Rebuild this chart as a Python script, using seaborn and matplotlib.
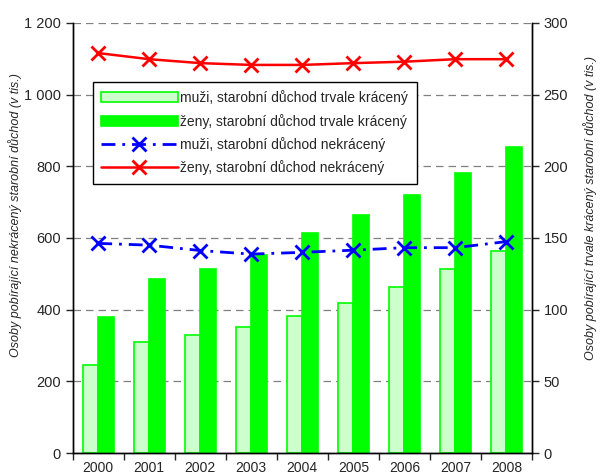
import pandas as pd
import matplotlib
matplotlib.use('Agg')
import matplotlib.pyplot as plt
import seaborn as sns

# data (thousands of persons)
years = ['2000', '2001', '2002', '2003', '2004', '2005', '2006', '2007', '2008']
muzi_kraceny = [61.4, 77.7, 82.3, 87.7, 95.8, 104.4, 115.6, 128.2, 140.7]
zeny_kraceny = [94.9, 121.4, 128.4, 138.1, 153.7, 166.0, 180.0, 195.1, 213.7]
muzi_nekraceny = [585, 580, 565, 555, 560, 566, 573, 573, 590]
zeny_nekraceny = [1116, 1099, 1088, 1083, 1083, 1088, 1092, 1099, 1099]

lab_mk = 'muži, starobní důchod trvale krácený'
lab_zk = 'ženy, starobní důchod trvale krácený'
lab_mn = 'muži, starobní důchod nekrácený'
lab_zn = 'ženy, starobní důchod nekrácený'

bars = pd.DataFrame({
    'rok': years * 2,
    'pocet': muzi_kraceny + zeny_kraceny,
    'skupina': [lab_mk] * len(years) + [lab_zk] * len(years),
})

sns.set_style('white')
plt.rcParams['font.family'] = ['Liberation Sans', 'DejaVu Sans']

fig = plt.figure(figsize=(6.01, 4.75), dpi=100)
ax1 = fig.add_axes([0.121, 0.0463, 0.764, 0.9053])
ax2 = ax1.twinx()

# bars on the right axis
sns.barplot(data=bars, x='rok', y='pocet', hue='skupina', ax=ax2, order=years,
            palette={lab_mk: '#ccffcc', lab_zk: '#00ff00'}, saturation=1,
            width=0.6, edgecolor='#00ff00', linewidth=1.2)
ax2.get_legend().remove()
ax2.set_ylim(0, 300)
ax2.set_yticks([0, 50, 100, 150, 200, 250, 300])
ax2.yaxis.grid(True, color='#808080', linestyle=(0, (6, 4)), linewidth=0.9)
ax2.set_axisbelow(True)

# lines on the left axis, drawn above the bars
sns.lineplot(x=years, y=zeny_nekraceny, ax=ax1, color='red', marker='x',
             markersize=10, markeredgewidth=2, markeredgecolor='red',
             linewidth=1.8, label=lab_zn)
sns.lineplot(x=years, y=muzi_nekraceny, ax=ax1, color='blue', marker='x',
             markersize=10, markeredgewidth=2, markeredgecolor='blue',
             linewidth=2, label=lab_mn)
for ln in ax1.lines:
    if ln.get_label() == lab_mn:
        ln.set_linestyle((0, (5, 2.5, 1, 2.5)))
ax1.set_zorder(ax2.get_zorder() + 1)
ax1.patch.set_visible(False)

ax1.set_ylim(0, 1200)
ax1.set_yticks([0, 200, 400, 600, 800, 1000, 1200])
ax1.set_yticklabels(['0', '200', '400', '600', '800', '1 000', '1 200'])
ax1.set_xlim(-0.5, 8.5)

# ticks between categories, labels at centers
ax1.set_xticks([i - 0.5 for i in range(len(years) + 1)])
ax1.set_xticklabels([])
ax1.set_xticks(range(len(years)), minor=True)
ax1.set_xticklabels(years, minor=True)
ax1.tick_params(axis='x', which='major', direction='out', length=5, width=1, bottom=True)
ax1.tick_params(axis='x', which='minor', length=0, labelsize=10, pad=6)
ax1.tick_params(axis='y', direction='out', length=5, width=1, left=True, labelsize=10.5)
ax2.tick_params(axis='y', direction='out', length=5, width=1, right=True, labelsize=10.5)

ax1.set_xlabel('')
ax2.set_xlabel('')
ax1.set_ylabel('Osoby pobírající nekrácený starobní důchod (v tis.)',
               fontsize=9, style='italic')
ax2.set_ylabel('Osoby pobírající trvale krácený starobní důchod (v tis.)',
               fontsize=9, style='italic')
ax1.yaxis.set_label_coords(-0.11, 0.553)
ax2.yaxis.set_label_coords(1.112, 0.57)

for ax in (ax1, ax2):
    ax.spines['top'].set_visible(False)
    for s in ('left', 'right', 'bottom'):
        ax.spines[s].set_color('black')
        ax.spines[s].set_linewidth(1)

# legend
h2, l2 = ax2.get_legend_handles_labels()
h1, l1 = ax1.get_legend_handles_labels()
order = [l1.index(lab_mn), l1.index(lab_zn)]
handles = h2 + [h1[i] for i in order]
labels = l2 + [l1[i] for i in order]
ax1.legend(handles, labels, loc='upper left', bbox_to_anchor=(0.044, 0.863),
           borderaxespad=0, fontsize=10, handlelength=5.5, handletextpad=0.2,
           labelspacing=0.6, fancybox=False, framealpha=1, edgecolor='black',
           borderpad=0.6)
ax1.get_legend().get_frame().set_linewidth(1)

fig.savefig('out.png', dpi=100)
